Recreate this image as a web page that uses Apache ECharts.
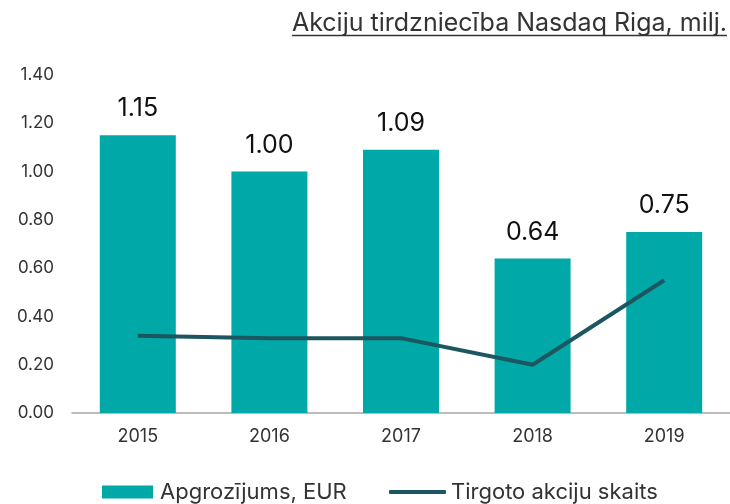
<!DOCTYPE html>
<html>
<head>
<meta charset="utf-8">
<script src="https://cdn.jsdelivr.net/npm/echarts@6/dist/echarts.min.js"></script>
<style>
  html, body { margin: 0; padding: 0; background: #fff; }
  #chart { width: 730px; height: 504px; }
</style>
</head>
<body>
<div id="chart"></div>
<script>
// dati
var years = ['2015', '2016', '2017', '2018', '2019'];
var turnover = [1.15, 1.00, 1.09, 0.64, 0.75];   // Apgrozījums, EUR
var shares = [0.32, 0.31, 0.31, 0.20, 0.55];     // Tirgoto akciju skaits
var yTicks = [0, 0.2, 0.4, 0.6, 0.8, 1.0, 1.2, 1.4];
var titleText = 'Akciju tirdzniecība Nasdaq Riga, milj.';

var fontName = 'Inter, "Noto Sans", sans-serif';
var titleSize = 25;

// pasvītrojuma garums pēc teksta platuma
var ctx = document.createElement('canvas').getContext('2d');
ctx.font = titleSize + 'px ' + fontName;
var titleW = ctx.measureText(titleText).width;
var titleRight = 727;

var myChart = echarts.init(document.getElementById('chart'));
var option = {
    animation: false,
    textStyle: { fontFamily: fontName },
    graphic: [
        {
            type: 'text', right: 730 - titleRight, top: 11,
            style: { text: titleText, font: titleSize + 'px ' + fontName, fill: '#333' }
        },
        {
            type: 'line',
            shape: { x1: titleRight - titleW, y1: 35.5, x2: titleRight, y2: 35.5 },
            style: { stroke: '#333', lineWidth: 1.4 }
        }
    ],
    legend: [
        {
            data: [{ name: 'Apgrozījums, EUR', icon: 'rect' }],
            left: 97, top: 476,
            itemWidth: 51, itemHeight: 13,
            textStyle: { fontSize: 22, color: '#333', fontFamily: fontName, padding: [0, 0, 0, 2] }
        },
        {
            data: [{ name: 'Tirgoto akciju skaits', icon: 'roundRect' }],
            left: 384, top: 476,
            itemWidth: 57, itemHeight: 4,
            textStyle: { fontSize: 22, color: '#333', fontFamily: fontName, padding: [0, 0, 0, 0] }
        }
    ],
    grid: { left: 72, right: 0, top: 75, bottom: 91, containLabel: false },
    xAxis: {
        type: 'category',
        data: years,
        axisLine: { lineStyle: { color: '#a6a6a6', width: 1.5 } },
        axisTick: { show: false },
        axisLabel: { fontSize: 18, color: '#333', margin: 15, fontFamily: fontName }
    },
    yAxis: {
        type: 'value',
        min: 0, max: 1.4, interval: 0.2,
        splitLine: { show: false },
        axisLine: { show: false },
        axisTick: { show: false },
        axisLabel: {
            fontSize: 17, color: '#333', margin: 18, fontFamily: fontName,
            formatter: function (v) { return yTicks.indexOf(Math.round(v * 10) / 10) >= 0 ? v.toFixed(2) : ''; }
        }
    },
    series: [
        {
            name: 'Apgrozījums, EUR',
            type: 'bar',
            data: turnover,
            barWidth: 76,
            itemStyle: { color: '#00A9A7' },
            label: {
                show: true, position: 'top', distance: 14,
                fontSize: 25, color: '#111', fontFamily: fontName,
                formatter: function (p) { return p.value.toFixed(2); }
            }
        },
        {
            name: 'Tirgoto akciju skaits',
            type: 'line',
            data: shares,
            symbol: 'none',
            lineStyle: { color: '#1C5660', width: 4 },
            itemStyle: { color: '#1C5660' }
        }
    ]
};
myChart.setOption(option);
</script>
</body>
</html>
